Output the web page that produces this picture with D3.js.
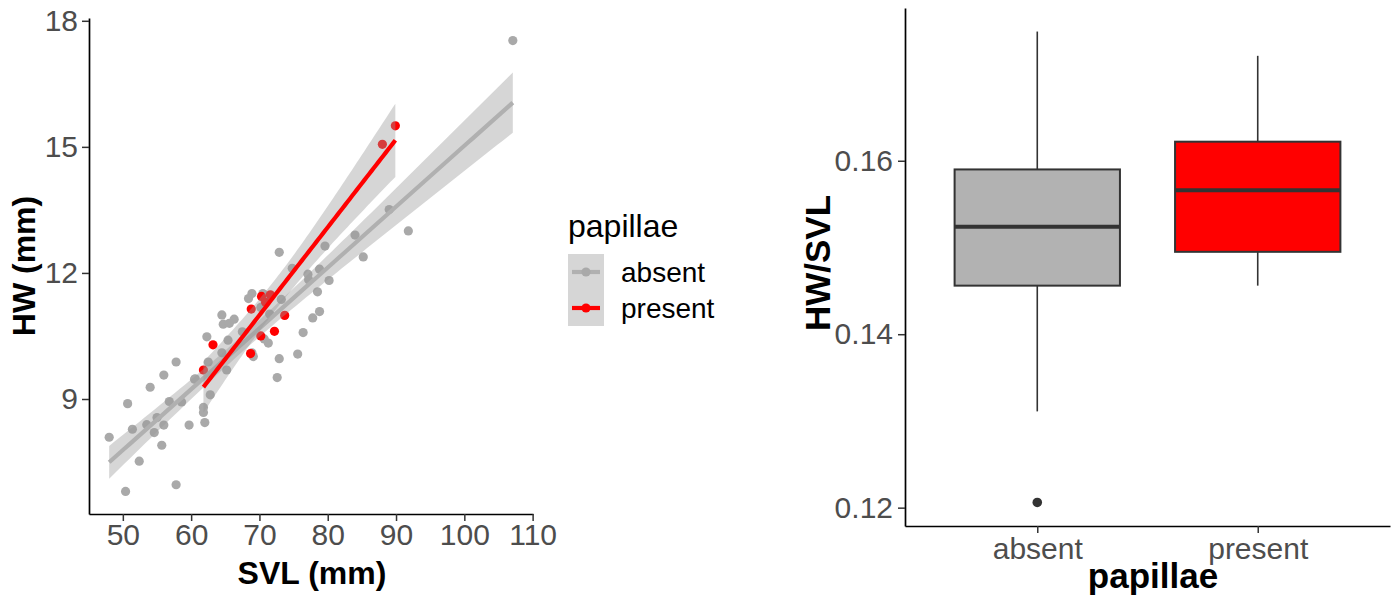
<!DOCTYPE html>
<html>
<head>
<meta charset="utf-8">
<script src="https://cdn.jsdelivr.net/npm/d3@7"></script>
<style>
  body { margin: 0; background: #fff; }
  svg text { font-family: "Liberation Sans", Arial, sans-serif; }
</style>
</head>
<body>
<svg id="chart" width="1398" height="597"></svg>
<script>
// SVL (mm), HW (mm), papillae absent
var absentSVL = [48.0, 50.7, 50.4, 51.4, 52.4, 54.0, 53.5, 54.6, 55.0, 56.0, 56.0, 55.7, 56.8, 57.8, 57.8,
  58.6, 59.7, 60.5, 60.6, 61.8, 61.8, 62.0, 62.5, 62.8, 64.5, 65.2, 62.3, 65.4, 64.5, 66.3, 64.7, 65.6,
  67.5, 70.7, 71.3, 68.9, 69.1, 72.9, 72.6, 75.6, 76.4, 77.8, 78.8, 78.5, 80.2, 78.8, 77.2, 77.1, 74.8,
  79.6, 72.9, 73.2, 71.5, 68.9, 68.4, 70.5, 70.8, 70.2, 84.0, 85.2, 89.0, 91.8, 107.1];
var absentHW = [8.09, 8.89, 6.80, 8.28, 7.52, 9.28, 8.39, 8.20, 8.56, 9.57, 8.38, 7.90, 8.94, 9.88, 6.96,
  8.93, 8.38, 9.47, 9.48, 8.80, 8.68, 8.44, 9.88, 9.10, 10.10, 9.69, 10.48, 10.40, 11.00, 10.90, 10.78, 10.80,
  10.60, 10.43, 10.33, 10.10, 10.01, 9.96, 9.51, 10.07, 10.58, 10.93, 11.08, 11.55, 11.82, 12.09, 11.84, 11.97, 12.11,
  12.64, 12.49, 11.37, 11.02, 11.51, 11.39, 11.51, 11.35, 11.18, 12.90, 12.38, 13.51, 13.00, 17.53];

// papillae present
var presentSVL = [61.8, 63.2, 68.7, 68.8, 70.2, 70.3, 70.9, 71.6, 72.2, 73.7, 88.0, 89.9];
var presentHW = [9.69, 10.29, 10.08, 11.14, 10.50, 11.44, 11.30, 11.48, 10.61, 10.99, 15.06, 15.50];

var groups = ["absent", "present"];
var groupColors = ["#a9a9a9", "#ff0000"];

// HW/SVL boxplot summaries (lower whisker, Q1, median, Q3, upper whisker)
var boxLower = [0.1311, 0.1456];
var boxQ1 = [0.1456, 0.1495];
var boxMedian = [0.1524, 0.1566];
var boxQ3 = [0.1590, 0.1622];
var boxUpper = [0.1749, 0.1721];
var boxOutliers = [[0.1206], []];
var boxFills = ["#b2b2b2", "#ff0000"];

var xTicksL = [50, 60, 70, 80, 90, 100, 110];
var yTicksL = [9, 12, 15, 18];
var yTicksR = [0.12, 0.14, 0.16];

var svg = d3.select("#chart");
var tickColor = "#4d4d4d";

// t quantile (0.975) by Cornish-Fisher expansion
function tq(df) {
  var z = 1.959964;
  return z + (Math.pow(z, 3) + z) / (4 * df) +
    (5 * Math.pow(z, 5) + 16 * Math.pow(z, 3) + 3 * z) / (96 * df * df) +
    (3 * Math.pow(z, 7) + 19 * Math.pow(z, 5) + 17 * Math.pow(z, 3) - 15 * z) / (384 * df * df * df);
}

function lmFit(xs, ys) {
  var n = xs.length, xbar = d3.mean(xs), ybar = d3.mean(ys);
  var sxx = 0, sxy = 0;
  for (var i = 0; i < n; i++) {
    sxx += (xs[i] - xbar) * (xs[i] - xbar);
    sxy += (xs[i] - xbar) * (ys[i] - ybar);
  }
  var b = sxy / sxx, a = ybar - b * xbar, rss = 0;
  for (var j = 0; j < n; j++) rss += Math.pow(ys[j] - (a + b * xs[j]), 2);
  var s = Math.sqrt(rss / (n - 2)), t = tq(n - 2);
  var lo = d3.min(xs), hi = d3.max(xs), out = [];
  for (var k = 0; k <= 80; k++) {
    var x = lo + (hi - lo) * k / 80, fit = a + b * x;
    var se = s * Math.sqrt(1 / n + (x - xbar) * (x - xbar) / sxx);
    out.push({x: x, y: fit, lo: fit - t * se, hi: fit + t * se});
  }
  return out;
}

var seriesX = [absentSVL, presentSVL], seriesY = [absentHW, presentHW];
var fits = [lmFit(absentSVL, absentHW), lmFit(presentSVL, presentHW)];

// ---------- left panel: scatter ----------
var allX = absentSVL.concat(presentSVL), allY = absentHW.concat(presentHW);
var ex = d3.extent(allX), ey = d3.extent(allY);
var px = (ex[1] - ex[0]) * 0.05, py = (ey[1] - ey[0]) * 0.05;
var xL = d3.scaleLinear().domain([ex[0] - px, ex[1] + px]).range([89, 533]);
var yL = d3.scaleLinear().domain([ey[0] - py, ey[1] + py]).range([514, 18]);

var left = svg.append("g");
groups.forEach(function (g, gi) {
  left.selectAll(".pt" + gi)
    .data(d3.range(seriesX[gi].length))
    .enter().append("circle")
    .attr("cx", function (i) { return xL(seriesX[gi][i]); })
    .attr("cy", function (i) { return yL(seriesY[gi][i]); })
    .attr("r", 4.6)
    .attr("fill", groupColors[gi]);
});

var band = d3.area()
  .x(function (d) { return xL(d.x); })
  .y0(function (d) { return yL(d.lo); })
  .y1(function (d) { return yL(d.hi); });
var fitLine = d3.line()
  .x(function (d) { return xL(d.x); })
  .y(function (d) { return yL(d.y); });

fits.forEach(function (f, gi) {
  left.append("path").attr("d", band(f))
    .attr("fill", "#999999").attr("fill-opacity", 0.4);
  left.append("path").attr("d", fitLine(f))
    .attr("fill", "none").attr("stroke", gi ? groupColors[gi] : "#b0b0b0").attr("stroke-width", 4.2);
});

function styleAxis(g, size) {
  g.select(".domain").attr("stroke", "#000").attr("stroke-width", 1.7);
  g.selectAll(".tick line").attr("stroke", "#333").attr("stroke-width", 1.5);
  g.selectAll(".tick text").attr("fill", tickColor).style("font-size", size + "px");
}

var xAxL = left.append("g").attr("transform", "translate(0,514)")
  .call(d3.axisBottom(xL).tickValues(xTicksL).tickSize(7).tickSizeOuter(0).tickPadding(3));
styleAxis(xAxL, 30);
var yAxL = left.append("g").attr("transform", "translate(89,0)")
  .call(d3.axisLeft(yL).tickValues(yTicksL).tickSize(7).tickSizeOuter(0).tickPadding(4));
styleAxis(yAxL, 30);

left.append("text").attr("x", 312).attr("y", 584).attr("text-anchor", "middle")
  .style("font-size", "32px").style("font-weight", "bold").text("SVL (mm)");
left.append("text").attr("transform", "translate(35,266) rotate(-90)").attr("text-anchor", "middle")
  .style("font-size", "32px").style("font-weight", "bold").text("HW (mm)");

// legend
var legend = svg.append("g").attr("transform", "translate(568,0)");
legend.append("text").attr("x", 0).attr("y", 237).style("font-size", "32px").text("papillae");
groups.forEach(function (g, gi) {
  var ky = 254 + gi * 36;
  legend.append("rect").attr("x", 0).attr("y", ky).attr("width", 36).attr("height", 36)
    .attr("fill", "#999999").attr("fill-opacity", 0.4);
  legend.append("line").attr("x1", 4).attr("x2", 32).attr("y1", ky + 18).attr("y2", ky + 18)
    .attr("stroke", gi ? groupColors[gi] : "#b0b0b0").attr("stroke-width", 4.2);
  legend.append("circle").attr("cx", 18).attr("cy", ky + 18).attr("r", 4.6).attr("fill", groupColors[gi]);
  legend.append("text").attr("x", 53).attr("y", ky + 18).attr("dy", "0.36em")
    .style("font-size", "28px").text(g);
});

// ---------- right panel: boxplot ----------
var lo = d3.min([d3.min(boxLower), d3.min(boxOutliers, function (o) { return d3.min(o); })]);
var hi = d3.max(boxUpper), pr = (hi - lo) * 0.05;
var yR = d3.scaleLinear().domain([lo - pr, hi + pr]).range([526, 8]);
var xR = d3.scaleLinear().domain([0.4, 2.6]).range([905, 1390]);
var bw = 0.75;

var right = svg.append("g");
groups.forEach(function (g, gi) {
  var cx = xR(gi + 1), x0 = xR(gi + 1 - bw / 2), x1 = xR(gi + 1 + bw / 2);
  right.append("line").attr("x1", cx).attr("x2", cx).attr("y1", yR(boxUpper[gi])).attr("y2", yR(boxQ3[gi]))
    .attr("stroke", "#333").attr("stroke-width", 1.6);
  right.append("line").attr("x1", cx).attr("x2", cx).attr("y1", yR(boxQ1[gi])).attr("y2", yR(boxLower[gi]))
    .attr("stroke", "#333").attr("stroke-width", 1.6);
  right.append("rect").attr("x", x0).attr("width", x1 - x0)
    .attr("y", yR(boxQ3[gi])).attr("height", yR(boxQ1[gi]) - yR(boxQ3[gi]))
    .attr("fill", boxFills[gi]).attr("stroke", "#333").attr("stroke-width", 2);
  right.append("line").attr("x1", x0).attr("x2", x1).attr("y1", yR(boxMedian[gi])).attr("y2", yR(boxMedian[gi]))
    .attr("stroke", "#333").attr("stroke-width", 4);
  right.selectAll(".out" + gi).data(boxOutliers[gi]).enter().append("circle")
    .attr("cx", cx).attr("cy", function (d) { return yR(d); }).attr("r", 4.8).attr("fill", "#333");
});

var xAxR = right.append("g").attr("transform", "translate(0,526)")
  .call(d3.axisBottom(xR).tickValues([1, 2]).tickFormat(function (d) { return groups[d - 1]; })
    .tickSize(7).tickSizeOuter(0).tickPadding(5));
styleAxis(xAxR, 30);
var yAxR = right.append("g").attr("transform", "translate(905,0)")
  .call(d3.axisLeft(yR).tickValues(yTicksR).tickFormat(d3.format(".2f")).tickSize(7).tickSizeOuter(0).tickPadding(5));
styleAxis(yAxR, 30);

right.append("text").attr("x", 1153).attr("y", 588).attr("text-anchor", "middle")
  .style("font-size", "35px").style("font-weight", "bold").text("papillae");
right.append("text").attr("transform", "translate(830,263) rotate(-90)").attr("text-anchor", "middle")
  .style("font-size", "35px").style("font-weight", "bold").text("HW/SVL");
</script>
</body>
</html>
